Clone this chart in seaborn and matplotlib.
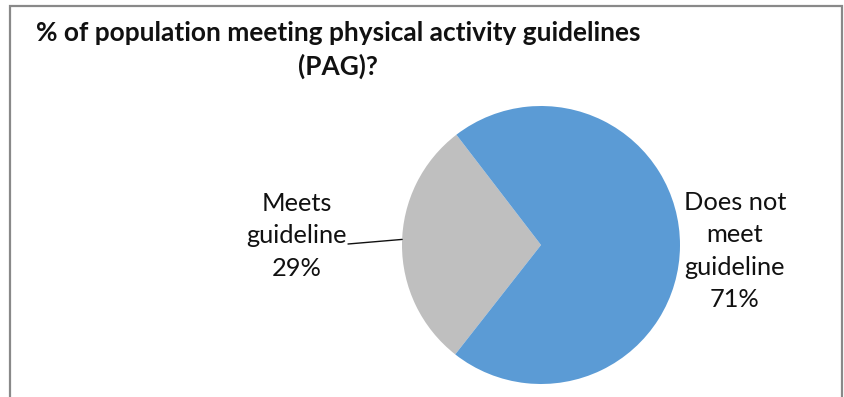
import numpy as np
import matplotlib
matplotlib.use("Agg")
import matplotlib.pyplot as plt
import seaborn as sns
from matplotlib.patches import Rectangle

# Share of population by physical activity guideline status
categories = ["Meets guideline", "Does not meet guideline"]
shares = [29, 71]
label_lines = ["Meets\nguideline", "Does not\nmeet\nguideline"]
colors = ["#BFBFBF", "#5B9BD5"]
title = "% of population meeting physical activity guidelines\n(PAG)?"

sns.set_theme(style="white")
plt.rcParams["font.family"] = ["Lato", "DejaVu Sans"]

W, H = 845, 397
fig = plt.figure(figsize=(W / 100, H / 100), dpi=100)
fig.patch.set_facecolor("white")

# chart frame
fig.patches.append(Rectangle((10 / W, -0.05), 832 / W, (H - 6) / H + 0.05,
                             transform=fig.transFigure, fill=False,
                             edgecolor="#898989", linewidth=1.6))

# pie axes: centre (541, 245) px, radius 139 px
cx, cy, r = 541, 245, 139
ax = fig.add_axes([(cx - r) / W, (H - cy - r) / H, 2 * r / W, 2 * r / H])
wedges, _ = ax.pie(shares, colors=colors, startangle=127.5, counterclock=True,
                   radius=1.0, wedgeprops=dict(linewidth=0))
ax.set_xlim(-1, 1)
ax.set_ylim(-1, 1)
ax.set_aspect("equal")
ax.axis("off")

# labels
lab_kw = dict(ha="center", va="center", fontsize=18.3, color="#111111",
              linespacing=1.5)
fig.text(297 / W, 1 - 236 / H, f"{label_lines[0]}\n{shares[0]}%",
         **lab_kw)
fig.text(735 / W, 1 - 251 / H, f"{label_lines[1]}\n{shares[1]}%",
         **lab_kw)

# leader line from the grey wedge to its label
w = wedges[0]
mid = np.deg2rad((w.theta1 + w.theta2) / 2 - 2)
ax.annotate("", xy=(np.cos(mid), np.sin(mid)), xycoords="data",
            xytext=(348 / W, 1 - 244 / H), textcoords="figure fraction",
            arrowprops=dict(arrowstyle="-", color="#111111", lw=1.0,
                            shrinkA=0, shrinkB=0))

fig.text(338 / W, 1 - 50 / H, title, ha="center", va="center",
         fontsize=18.9, fontweight="bold", color="#111111", linespacing=1.45)

fig.savefig("out.png", dpi=100)
